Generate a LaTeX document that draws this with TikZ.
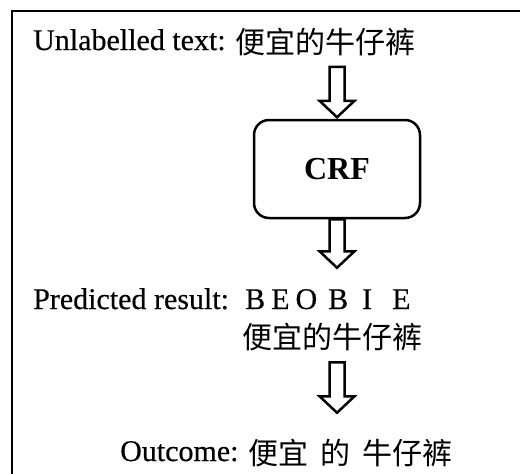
\documentclass[tikz,border=0pt]{standalone}
\usepackage{fontspec}
\setmainfont{Liberation Serif}[UprightFeatures={FakeBold=0.5}]
\newfontfamily\cjk{Noto Sans CJK SC}
\usetikzlibrary{calc}
\newcommand{\zh}[1]{{\cjk\fontsize{30pt}{34pt}\selectfont\raisebox{-3pt}{#1}}}
\tikzset{
  txt/.style={ % plain line of text
    inner sep=0pt, anchor=base west,
    font=\fontsize{30pt}{34pt}\selectfont
  },
  model/.style={ % rounded box of the model
    draw, rectangle, rounded corners=15pt, line width=2.5pt,
    minimum width=166pt, minimum height=98pt,
    font=\bfseries\fontsize{32pt}{36pt}\selectfont
  },
  fat/.style={ % hollow block arrow
    draw, line width=2.5pt, line join=miter, fill=white
  }
}
% hollow arrow pointing down, from #1 to #2
\newcommand{\fatarrow}[2]{%
  \draw[fat] let \p1 = #1, \p2 = #2 in
    (\x1-7.5pt,\y1) -- (\x1+7.5pt,\y1) -- (\x1+7.5pt,\y2+18pt) -- (\x1+17.5pt,\y2+18pt)
    -- (\x1,\y2+1.5pt) -- (\x1-17.5pt,\y2+18pt) -- (\x1-7.5pt,\y2+18pt) -- cycle;
}

\begin{document}
\begin{tikzpicture}[x=1pt, y=-1pt]
  \useasboundingbox (0,0) rectangle (520,474);
  \begin{scope}
    \clip (0,0) rectangle (520,474);
    \draw[line width=1.5pt] (12,11) rectangle (540,500);
  \end{scope}

  \node[txt] (unl) at (33,50) {Unlabelled text: \zh{便宜的牛仔裤}};
  \node[model] (crf) at (337,169) {CRF};
  \node[txt] (pred) at (33,309) {Predicted result:};
  \node[txt] (tags) at (245,309) {B\hspace{6pt}E\hspace{6pt}O\hspace{11pt}B\hspace{14pt}I\hspace{20pt}E};
  \node[txt] (seg) at (242,345) {\zh{便宜的牛仔裤}};
  \node[txt] (out) at (120,461) {Outcome: \zh{便宜}\hspace{12pt}\zh{的}\hspace{12pt}\zh{牛仔裤}};

  \fatarrow{($(crf.north)+(0,-52)$)}{(crf.north)}
  \fatarrow{(crf.south)}{($(crf.south)+(0,50)$)}
  \fatarrow{($(crf.south)+(0,143)$)}{($(crf.south)+(0,195)$)}
\end{tikzpicture}
\end{document}
